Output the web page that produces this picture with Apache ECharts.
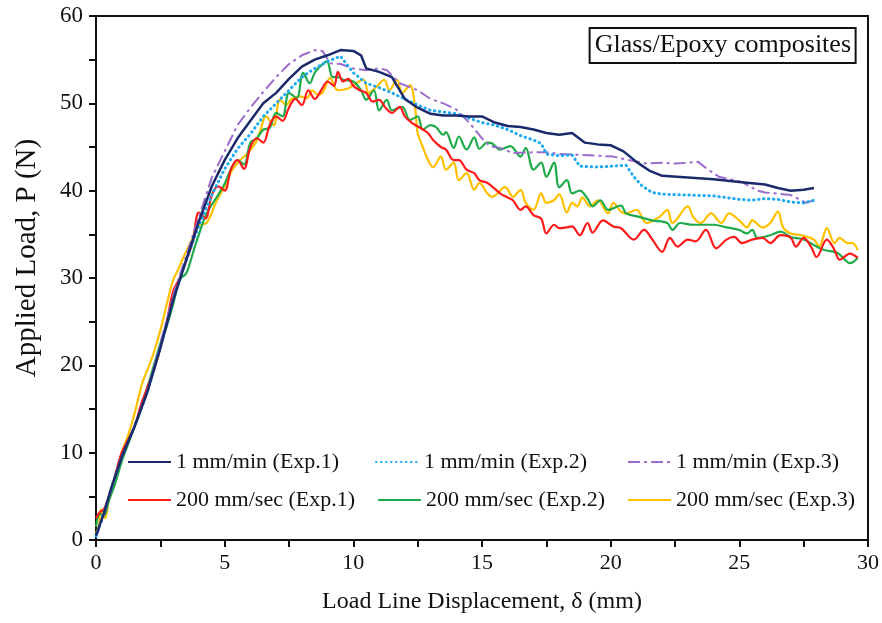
<!DOCTYPE html>
<html>
<head>
<meta charset="utf-8">
<script src="https://cdn.jsdelivr.net/npm/echarts@6/dist/echarts.min.js"></script>
<style>
html,body{margin:0;padding:0;background:#fff;}
#box{width:882px;height:623px;}
</style>
</head>
<body>
<div id="box"></div>
<script>
// 1 mm/min tests
var slow1 = [[0,0.5],[0.3,3],[0.6,6],[1,9.5],[1.5,13],[2,17],[2.5,22],[3,27.5],[3.5,32],[4,36.5],[4.5,40.5],[5,43.5],[5.5,46],[6,48],[6.5,50],[7,51.2],[7.5,52.8],[8,54.2],[8.5,55],[9,55.5],[9.5,56.1],[10,56],[10.3,55.5],[10.5,54],[11,53.6],[11.5,53],[12,50.5],[12.5,49.5],[13,48.8],[13.5,48.6],[14,48.6],[14.5,48.5],[15,48.5],[15.5,47.8],[16,47.4],[16.5,47.3],[17,47],[17.5,46.6],[18,46.4],[18.5,46.6],[19,45.5],[19.5,45.3],[20,45.2],[20.5,44.5],[21,43.3],[21.5,42.3],[22,41.7],[23,41.5],[24,41.3],[25,41],[26,40.7],[26.5,40.3],[27,40],[27.5,40.1],[27.9,40.3]];
var slow2 = [[0,0.5],[0.3,3],[0.6,6],[1,9.5],[1.5,13],[2,17],[2.5,22],[3,27.5],[3.5,32],[4,36],[4.5,39.5],[5,42.5],[5.5,44.8],[6,46.5],[6.5,48.5],[7,50],[7.5,51.5],[8,53],[8.5,54],[9,54.8],[9.5,55.4],[10,53.5],[10.5,52.3],[11,51.8],[11.5,51.2],[12,50.5],[12.5,49.8],[13,49.2],[13.5,49],[14,48.8],[14.5,48.3],[15,47.8],[15.5,47.5],[16,47],[16.5,46.3],[17,45.8],[17.3,45.4],[17.5,44.2],[18,44],[18.5,44.1],[18.8,42.8],[19.5,42.7],[20,42.8],[20.6,42.9],[20.9,41.6],[21.2,40.6],[21.6,39.8],[22,39.6],[23,39.5],[24,39.4],[25,39],[25.5,38.9],[26,39.1],[26.5,39],[27,38.7],[27.5,38.6],[27.9,38.9]];
var slow3 = [[0,0.3],[0.3,2.8],[0.6,6],[1,9.5],[1.5,13],[2,17],[2.5,22.5],[3,28],[3.5,32.5],[4,37],[4.5,41.5],[5,44.5],[5.5,47.5],[6,49.5],[6.5,51.3],[7,53],[7.5,54.5],[8,55.5],[8.5,56.1],[8.8,56],[9.1,54.6],[9.5,54.5],[10,54],[10.5,53.8],[11,54],[11.3,53.8],[11.8,52.3],[12.5,51.5],[13,50.5],[13.5,50],[14,49.3],[14.5,47.8],[15,46],[15.3,45.1],[15.7,44.9],[16.2,44.3],[17,44.4],[17.5,44.4],[18,44.2],[18.8,44.1],[19.5,44],[20.1,43.9],[20.7,43.5],[21.4,43.1],[22,43.2],[22.5,43.1],[23,43.2],[23.4,43.3],[23.7,42.6],[24.2,41.6],[25.1,41],[25.7,40],[26,39.8],[27,39.5],[27.6,38.6],[27.9,38.9]];
// 200 mm/sec tests
var fast1 = [[0,2.5],[0.15,3.2],[0.3,3.5],[0.5,5],[0.75,7.5],[1,10],[1.25,11.5],[1.5,13],[1.75,15.5],[2,17.5],[2.25,19.5],[2.5,22],[2.75,25],[3,28.5],[3.25,30],[3.5,32],[3.75,34],[4,37.5],[4.25,36.8],[4.5,39.5],[4.75,40.5],[5,40],[5.25,42.5],[5.5,43.5],[5.75,42.5],[6,45],[6.25,46],[6.5,45.5],[6.75,47.5],[7,48.5],[7.25,48],[7.5,49.5],[7.75,50.5],[8,49.8],[8.25,51.5],[8.5,50.5],[8.75,51.5],[9,52.5],[9.25,52],[9.4,53.6],[9.6,52.5],[9.8,52.8],[10,52],[10.25,51.5],[10.5,51.2],[10.75,50.2],[11,50.4],[11.25,49.5],[11.5,48.9],[11.8,49.6],[12,48.5],[12.3,47.7],[12.6,47.2],[12.9,46.6],[13.1,45.8],[13.4,45],[13.6,44.7],[13.9,43.5],[14.1,43.5],[14.4,42.4],[14.7,42],[14.9,41.2],[15.2,40.9],[15.5,40.2],[15.7,39.7],[16,39.2],[16.2,38.9],[16.5,37.8],[16.7,38.2],[17,37.2],[17.3,36.8],[17.5,35.1],[17.8,36.1],[18,35.7],[18.3,35.8],[18.5,35.9],[18.8,34.9],[19.1,36.3],[19.3,35.2],[19.7,36.6],[20.1,35.9],[20.4,35.7],[20.9,34.4],[21.3,35.5],[21.6,34.5],[22,33],[22.3,34.6],[22.6,33.6],[23,34.4],[23.3,34.2],[23.7,35.5],[24.1,33.4],[24.5,34.4],[24.8,34.7],[25.1,34],[25.5,34.4],[25.9,34.6],[26.2,34],[26.6,34.9],[27,34.6],[27.2,33.6],[27.5,34.6],[27.8,33.5],[28,32.4],[28.4,34.4],[28.7,33.2],[28.9,32.1],[29.3,32.8],[29.6,32.3]];
var fast2 = [[0,1.5],[0.15,3],[0.3,2.8],[0.5,4.5],[0.75,6.5],[1,9],[1.25,11],[1.5,13],[1.75,15],[2,17.5],[2.25,20],[2.5,22.5],[2.75,24.5],[3,27],[3.25,29.8],[3.5,30.5],[3.65,31.7],[3.8,33.2],[4,35],[4.3,37.4],[4.7,39.3],[5,40.8],[5.25,42.5],[5.5,43.5],[5.75,43],[6,45.5],[6.25,46],[6.5,47],[6.75,47.2],[7,48.9],[7.25,48.5],[7.5,51.2],[7.8,50.6],[8.05,53.5],[8.3,52.3],[8.5,53.5],[8.7,54.2],[8.97,54.8],[9.2,53],[9.4,53],[9.6,52.7],[10,52.5],[10.3,51.5],[10.5,50.4],[10.8,51.5],[11,49.2],[11.3,50.4],[11.5,49.2],[11.9,49.6],[12.2,48.1],[12.5,48.5],[12.7,47],[13,47.5],[13.2,47.3],[13.5,46.4],[13.6,46.7],[13.9,44.9],[14.1,46.2],[14.4,44.7],[14.7,46.1],[14.9,44.8],[15.2,45.5],[15.4,45.4],[15.7,44.7],[16.1,45.1],[16.5,43.9],[16.7,44.9],[17,42.4],[17.3,43.2],[17.5,41.6],[17.8,43.2],[18,40.4],[18.3,41.2],[18.5,39.7],[18.8,40],[19.1,39.1],[19.3,38.2],[19.6,38.9],[19.9,37.8],[20.4,38.3],[20.6,37.4],[21.1,37],[21.6,36.6],[22.2,36.3],[22.4,35.5],[22.7,36.3],[23.2,36.1],[24,36.1],[24.5,35.8],[25,35.5],[25.3,35.1],[25.5,35.5],[25.7,34.6],[26.2,34.9],[26.6,35.3],[27,34.7],[27.5,34.4],[28,33.6],[28.3,33.2],[28.8,32.9],[29,32.4],[29.3,31.7],[29.6,32.3]];
var fast3 = [[0,0.8],[0.1,1.5],[0.2,3.5],[0.35,2.5],[0.5,4.5],[0.75,7],[1,10],[1.25,12],[1.5,14.5],[1.8,18],[2,19.5],[2.25,21.5],[2.5,24],[2.75,27],[3,29.8],[3.2,31],[3.4,32.4],[3.75,34.5],[4,36],[4.3,36.3],[4.7,38.9],[5,40.5],[5.3,42.4],[5.6,43.5],[5.9,44.3],[6.2,45.5],[6.4,47],[6.6,48.5],[6.9,47.5],[7.15,50.4],[7.4,49.8],[7.6,50.5],[7.9,50.8],[8.2,50.6],[8.4,51.5],[8.6,51],[8.8,51.2],[9.1,52.9],[9.4,51.5],[9.8,51.7],[10.1,52.3],[10.4,52.7],[10.6,51.2],[10.9,51.9],[11.2,52.7],[11.4,51.5],[11.7,52.7],[11.9,51.2],[12.2,52.1],[12.4,49.5],[12.5,46.6],[12.7,45],[12.9,43.5],[13.1,42.7],[13.4,43.9],[13.6,42.4],[13.9,43.2],[14.1,41.2],[14.4,42],[14.7,40.1],[14.9,40.9],[15.2,39.7],[15.4,39.3],[15.9,40.4],[16.2,39.3],[16.5,40.1],[16.7,38.6],[17,37.8],[17.3,39.7],[17.5,38.6],[17.8,38.9],[18,39.6],[18.3,37.5],[18.5,38.6],[18.7,38.2],[18.9,39.2],[19.2,38.2],[19.5,38.9],[19.9,37.4],[20.1,38.6],[20.4,37.6],[20.6,37.4],[21,37.8],[21.4,36.3],[21.9,37],[22.2,37.8],[22.4,36.3],[23,38.2],[23.2,37],[23.5,36.3],[23.9,37.4],[24.3,36.3],[24.6,37.4],[25,36.6],[25.3,35.8],[25.5,36.6],[25.9,35.8],[26.2,36.3],[26.5,37.6],[26.7,35.8],[27,35.1],[27.4,34.9],[27.9,34.4],[28.1,33.6],[28.4,35.7],[28.7,34],[28.9,34.6],[29.2,34],[29.4,34],[29.6,33.2]];

var names = ['1 mm/min (Exp.1)','1 mm/min (Exp.2)','1 mm/min (Exp.3)','200 mm/sec (Exp.1)','200 mm/sec (Exp.2)','200 mm/sec (Exp.3)'];
var colors = ['#1B2A6B','#1EAAF1','#9B6CCB','#FF1A1A','#1FAA4B','#FFC000'];
var seriesData = [slow1, slow2, slow3, fast1, fast2, fast3];

var font = 'Liberation Serif';

var lineStyles = [
	{width: 2.5},
	{width: 3, type: [0.5, 4.5], cap: 'round'},
	{width: 2, type: [12, 4, 3, 4]},
	{width: 2.2},
	{width: 2.2},
	{width: 2.2}
];

var series = [];
for (var i = 0; i < seriesData.length; i++) {
	var ls = lineStyles[i];
	ls.color = colors[i];
	series.push({
		name: names[i],
		type: 'line',
		symbol: 'none',
		smooth: i >= 3 ? 0.35 : false,
		lineStyle: ls,
		itemStyle: {color: colors[i]},
		z: 10 - i,
		data: seriesData[i]
	});
}

// legend: 3 columns, 2 rows
var legendPos = [[127,451],[375,451],[627,451],[127,489],[377,489],[627,489]];
var legends = [];
for (var j = 0; j < names.length; j++) {
	legends.push({
		data: [names[j]],
		left: legendPos[j][0],
		top: legendPos[j][1],
		padding: 0,
		itemWidth: 43,
		itemHeight: 14,
		itemGap: 0,
		itemStyle: {opacity: 0},
		textStyle: {fontFamily: font, fontSize: 22, color: '#111'}
	});
}

var chart = echarts.init(document.getElementById('box'));
var option = {
	animation: false,
	backgroundColor: '#fff',
	title: {
		text: 'Glass/Epoxy composites',
		right: 26,
		top: 28,
		padding: [4, 5, 5, 5],
		borderColor: '#111',
		borderWidth: 2,
		textStyle: {fontFamily: font, fontSize: 26, fontWeight: 'normal', color: '#111'}
	},
	legend: legends,
	grid: {
		left: 96, right: 14, top: 16, bottom: 83,
		show: true, borderColor: '#111', borderWidth: 2
	},
	xAxis: {
		type: 'value',
		min: 0, max: 30, interval: 5,
		name: 'Load Line Displacement, \u03b4 (mm)',
		nameLocation: 'middle',
		nameGap: 50,
		nameTextStyle: {fontFamily: font, fontSize: 24, color: '#111'},
		axisLine: {lineStyle: {color: '#111', width: 2}},
		axisTick: {length: 7, lineStyle: {color: '#111', width: 2}},
		minorTick: {show: true, splitNumber: 2, length: 7, lineStyle: {color: '#111', width: 2}},
		splitLine: {show: false},
		axisLabel: {fontFamily: font, fontSize: 22, color: '#111', margin: 12}
	},
	yAxis: {
		type: 'value',
		min: 0, max: 60, interval: 10,
		name: 'Applied Load, P (N)',
		nameLocation: 'middle',
		nameGap: 54,
		nameTextStyle: {fontFamily: font, fontSize: 29, color: '#111', padding: [0, 0, 0, 40]},
		axisLine: {show: true, lineStyle: {color: '#111', width: 2}},
		axisTick: {show: true, length: 7, lineStyle: {color: '#111', width: 2}},
		minorTick: {show: true, splitNumber: 2, length: 7, lineStyle: {color: '#111', width: 2}},
		splitLine: {show: false},
		axisLabel: {fontFamily: font, fontSize: 23, color: '#111', margin: 13}
	},
	series: series
};
chart.setOption(option);
</script>
</body>
</html>
